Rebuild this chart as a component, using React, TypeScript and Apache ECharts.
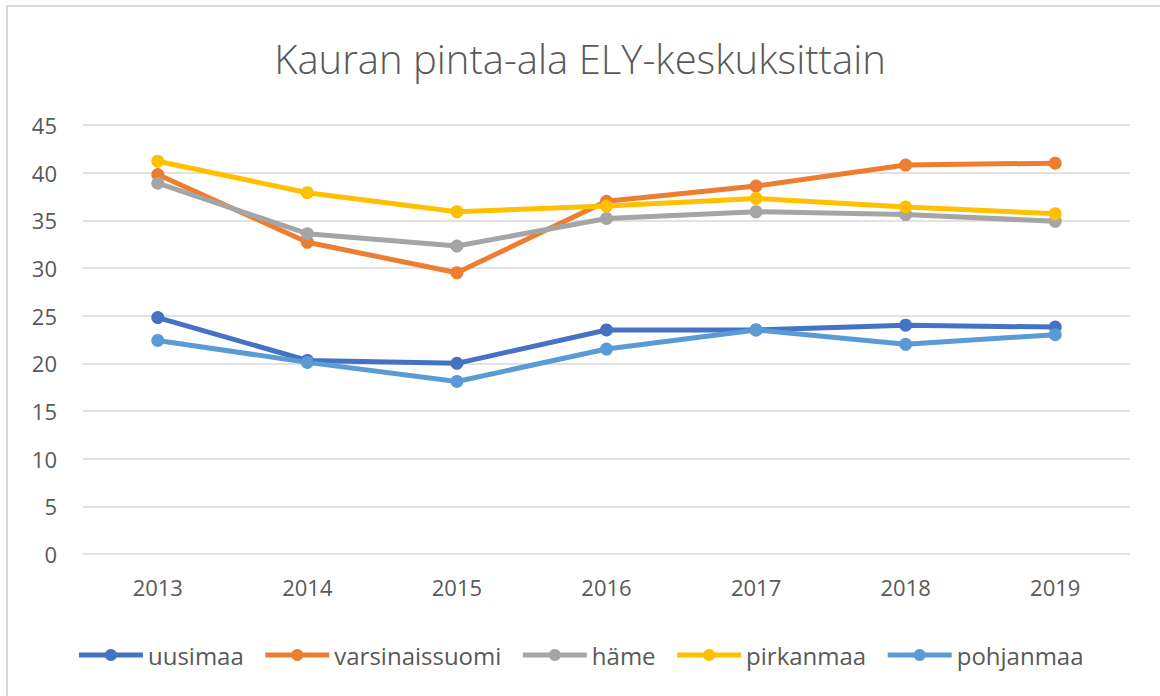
import React, { useEffect, useRef } from "react";
import * as echarts from "echarts";

const years = ["2013", "2014", "2015", "2016", "2017", "2018", "2019"];
const uusimaa = [24.8, 20.3, 20.0, 23.5, 23.5, 24.0, 23.8];
const varsinaissuomi = [39.8, 32.7, 29.5, 37.0, 38.6, 40.8, 41.0];
const hame = [38.9, 33.6, 32.3, 35.2, 35.9, 35.6, 34.9];
const pirkanmaa = [41.2, 37.9, 35.9, 36.5, 37.3, 36.4, 35.7];
const pohjanmaa = [22.4, 20.1, 18.1, 21.5, 23.5, 22.0, 23.0];

const seriesNames = ["uusimaa", "varsinaissuomi", "häme", "pirkanmaa", "pohjanmaa"];
const seriesData = [uusimaa, varsinaissuomi, hame, pirkanmaa, pohjanmaa];
const colors = ["#4472C4", "#ED7D31", "#A5A5A5", "#FFC000", "#5B9BD5"];

const FONT = "'Open Sans', 'Noto Sans', sans-serif";

export default function App() {
  const ref = useRef<HTMLDivElement>(null);
  useEffect(() => {
    if (!ref.current) return;
    const chart = echarts.init(ref.current, null, { renderer: "svg" });
    chart.setOption({
      animation: false,
      backgroundColor: "#ffffff",
      color: colors,
      title: {
        text: "Kauran pinta-ala ELY-keskuksittain",
        left: "center",
        top: 33,
        textStyle: { fontFamily: FONT, fontSize: 40, fontWeight: 300, color: "#595959" },
      },
      graphic: [
        {
          type: "rect",
          shape: { x: 7, y: 6, width: 1170, height: 710 },
          style: { fill: "none", stroke: "#d9d9d9", lineWidth: 2 },
          silent: true,
        },
      ],
      legend: {
        bottom: 24,
        left: "center",
        itemWidth: 64,
        itemHeight: 15,
        itemGap: 19,
        lineStyle: { width: 5 },
        textStyle: { fontFamily: FONT, fontSize: 24, color: "#595959" },
        data: seriesNames,
      },
      grid: { left: 83, right: 30, top: 125, bottom: 142 },
      xAxis: {
        type: "category",
        data: years,
        boundaryGap: true,
        axisLine: { show: false },
        axisTick: { show: false },
        axisLabel: { fontFamily: FONT, fontSize: 22, color: "#595959", margin: 22 },
      },
      yAxis: {
        type: "value",
        min: 0,
        max: 45,
        interval: 5,
        axisLine: { show: false },
        axisTick: { show: false },
        splitLine: { lineStyle: { color: "#d9d9d9", width: 1.5 } },
        axisLabel: { fontFamily: FONT, fontSize: 22, color: "#595959", margin: 26 },
      },
      series: seriesNames.map((name, i) => ({
        name,
        type: "line",
        data: seriesData[i],
        symbol: "circle",
        symbolSize: 13,
        lineStyle: { width: 5, color: colors[i] },
        itemStyle: { color: colors[i] },
      })),
    });
    return () => chart.dispose();
  }, []);
  return (
    <div
      ref={ref}
      style={{ position: "fixed", left: 0, top: 0, width: 1160, height: 696 }}
    />
  );
}
